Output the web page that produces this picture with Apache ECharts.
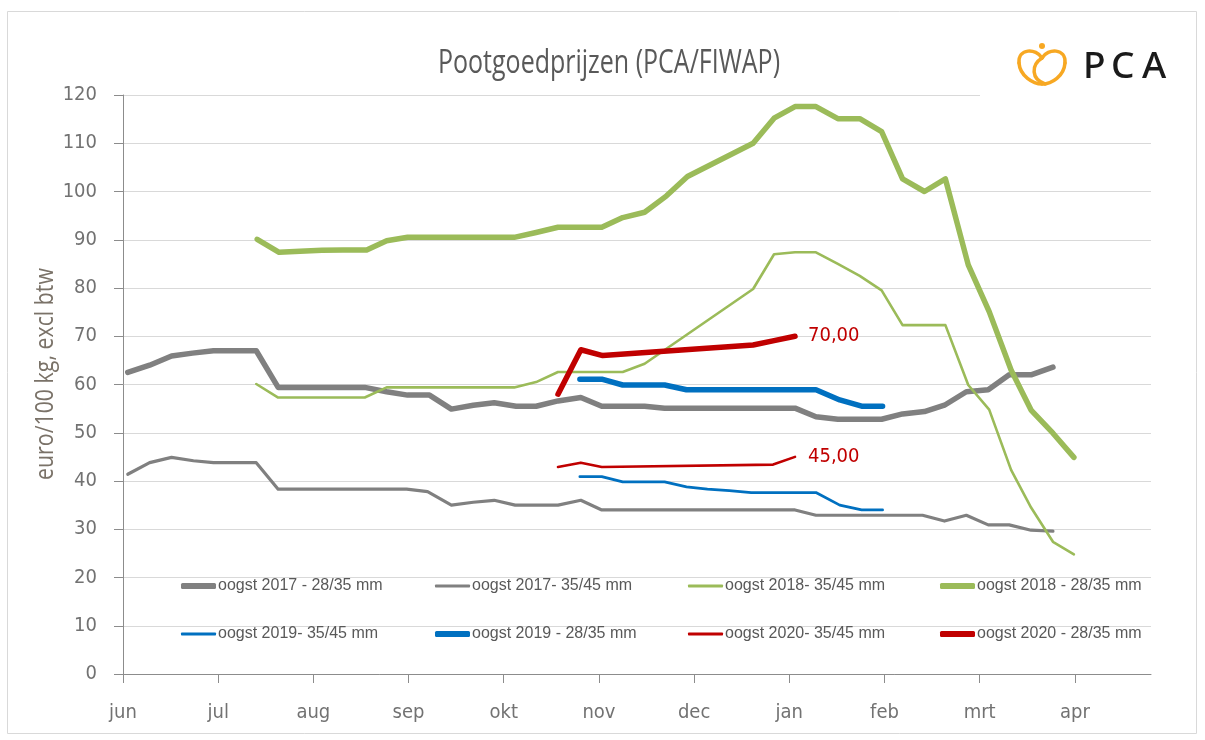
<!DOCTYPE html>
<html>
<head>
<meta charset="utf-8">
<script src="https://cdn.jsdelivr.net/npm/echarts@6/dist/echarts.min.js"></script>
<style>
html,body{margin:0;padding:0;background:#fff;}
#chart{width:1205px;height:740px;}
</style>
</head>
<body>
<div id="chart"></div>
<script>
// ---- data (x = months since 1 June, y = euro/100 kg) ----
const monthLabels = ['jun','jul','aug','sep','okt','nov','dec','jan','feb','mrt','apr'];

const oogst2017_2835 = [[0.05,62.5],[0.28,64.0],[0.51,65.9],[0.73,66.5],[0.95,67.0],[1.40,67.0],[1.63,59.4],[2.54,59.4],[2.77,58.5],[2.99,57.8],[3.22,57.8],[3.45,54.9],[3.68,55.7],[3.90,56.2],[4.13,55.5],[4.34,55.5],[4.57,56.6],[4.81,57.3],[5.03,55.5],[5.48,55.5],[5.69,55.1],[7.06,55.1],[7.28,53.3],[7.51,52.8],[7.97,52.8],[8.19,53.9],[8.42,54.4],[8.63,55.7],[8.86,58.5],[9.09,58.9],[9.31,62.0],[9.54,62.0],[9.77,63.6]];
const oogst2017_3545 = [[0.05,41.4],[0.28,43.8],[0.51,44.9],[0.74,44.2],[0.95,43.8],[1.40,43.8],[1.63,38.3],[2.98,38.3],[3.20,37.8],[3.45,35.0],[3.68,35.6],[3.90,36.0],[4.12,35.0],[4.57,35.0],[4.81,36.0],[5.03,34.0],[7.06,34.0],[7.28,32.9],[8.40,32.9],[8.63,31.7],[8.86,32.9],[9.09,30.9],[9.31,30.9],[9.54,29.8],[9.77,29.6]];
const oogst2018_3545 = [[1.40,60.1],[1.63,57.3],[2.54,57.3],[2.77,59.4],[4.11,59.4],[4.34,60.5],[4.57,62.6],[5.25,62.6],[5.48,64.3],[6.62,79.8],[6.84,87.0],[7.06,87.4],[7.28,87.4],[7.51,85.0],[7.74,82.5],[7.97,79.5],[8.19,72.3],[8.64,72.3],[8.88,59.9],[9.10,54.8],[9.33,42.3],[9.54,34.5],[9.77,27.4],[9.99,24.8]];
const oogst2018_2835 = [[1.41,90.1],[1.64,87.4],[1.86,87.6],[2.09,87.8],[2.31,87.9],[2.56,87.9],[2.77,89.8],[2.99,90.5],[4.11,90.5],[4.34,91.5],[4.57,92.6],[5.03,92.6],[5.25,94.6],[5.48,95.7],[5.71,99.1],[5.93,103.1],[6.62,110.0],[6.84,115.2],[7.06,117.6],[7.28,117.6],[7.51,115.1],[7.74,115.1],[7.97,112.4],[8.19,102.6],[8.42,100.0],[8.64,102.6],[8.88,84.8],[9.10,75.1],[9.33,63.0],[9.54,54.7],[9.77,49.9],[9.99,44.9]];
const oogst2019_3545 = [[4.80,40.9],[5.03,40.9],[5.25,39.8],[5.69,39.8],[5.92,38.8],[6.14,38.3],[6.37,38.0],[6.60,37.6],[7.28,37.6],[7.53,35.0],[7.76,34.0],[7.98,34.0]];
const oogst2019_2835 = [[4.80,61.1],[5.03,61.1],[5.25,59.9],[5.69,59.9],[5.92,58.9],[7.28,58.9],[7.53,56.8],[7.76,55.5],[7.98,55.5]];
const oogst2020_3545 = [[4.57,42.9],[4.81,43.8],[5.03,42.9],[6.83,43.4],[7.06,45.0]];
const oogst2020_2835 = [[4.57,58.0],[4.81,67.2],[5.04,66.0],[6.62,68.2],[6.84,69.1],[7.06,70.0]];

const seriesNames = ['oogst 2017 - 28/35 mm','oogst 2017- 35/45 mm','oogst 2018- 35/45 mm','oogst 2018 - 28/35 mm','oogst 2019- 35/45 mm','oogst 2019 - 28/35 mm','oogst 2020- 35/45 mm','oogst 2020 - 28/35 mm'];
const seriesData = [oogst2017_2835, oogst2017_3545, oogst2018_3545, oogst2018_2835, oogst2019_3545, oogst2019_2835, oogst2020_3545, oogst2020_2835];
const labelLast = [false,false,false,false,false,false,true,true];

const titleText = 'Pootgoedprijzen (PCA/FIWAP)';
const yAxisTitle = 'euro/100 kg, excl btw';

// ---- styles ----
const colors = ['#808080','#808080','#9bbb59','#9bbb59','#0070c0','#0070c0','#c00000','#c00000'];
const widths = [5.5,3.2,2.6,5.5,2.8,5.5,2.6,5.5];
const legendIconH = [6,3,3,6,3,6,3,6];
const condensed = '"DejaVu Sans Condensed","Liberation Sans Narrow","Open Sans",sans-serif';
const legendPos = [[181,577],[435,577],[688,577],[940,577],[181,625],[435,625],[688,625],[940,625]];

function measure(text, font){
  const c = document.createElement('canvas').getContext('2d');
  c.font = font;
  return c.measureText(text).width;
}
const titleFont = '32px "Open Sans"';
const titleScale = 342 / measure(titleText, titleFont);
const yNameFont = '25px "Open Sans"';
const yNameScale = 212 / measure(yAxisTitle, yNameFont);

const chart = echarts.init(document.getElementById('chart'), null, {renderer:'canvas'});

const series = seriesData.map((d,i)=>({
  name: seriesNames[i],
  type: 'line',
  data: d,
  symbol: 'none',
  showSymbol: false,
  z: 2+i,
  lineStyle: {color: colors[i], width: widths[i], join:'round', cap:'round'},
  itemStyle: {color: colors[i]},
  endLabel: {
    show: labelLast[i], distance: 13,
    color: '#c00000', fontSize: 20, fontFamily: condensed,
    formatter: (p)=> p.value[1].toFixed(2).replace('.', ',')
  },
  emphasis: {disabled: true},
  animation: false
}));

const legends = seriesNames.map((n,i)=>({
  data: [n],
  icon: 'roundRect',
  left: legendPos[i][0], top: legendPos[i][1],
  padding: 0, itemWidth: 35, itemHeight: legendIconH[i], itemGap: 0,
  selectedMode: false,
  textStyle: {color:'#595959', fontSize: 16, lineHeight: 18, height: 18, fontFamily:'"Liberation Sans", Arial, sans-serif', padding:[0,0,0,-3]}
}));

const orange = '#f7a823';
function bez(x1,y1,c1x,c1y,c2x,c2y,x2,y2){
  return {type:'bezierCurve', silent:true, z:51,
    shape:{x1:x1,y1:y1,cpx1:c1x,cpy1:c1y,cpx2:c2x,cpy2:c2y,x2:x2,y2:y2},
    style:{fill:null, stroke:orange, lineWidth:3.5, lineCap:'round'}};
}

const option = {
  backgroundColor: '#ffffff',
  animation: false,
  grid: {left: 123, top: 95, width: 1028, height: 579, containLabel: false},
  legend: legends,
  xAxis: {
    type: 'value', min: 0, max: 10.8, interval: 1,
    axisLine: {show: true, onZero: false, lineStyle: {color: '#8c8c8c', width: 1}},
    axisTick: {show: true, length: 9, inside: false, customValues: monthLabels.map((m,i)=>i), lineStyle: {color:'#8c8c8c'}},
    axisLabel: {
      show: true, margin: 29, color: '#727272', fontSize: 20, fontFamily: condensed,
      customValues: monthLabels.map((m,i)=>i),
      formatter: (v)=> monthLabels[Math.round(v)] || ''
    },
    splitLine: {show: false}
  },
  yAxis: {
    type: 'value', min: 0, max: 120, interval: 10,
    axisLine: {show: true, lineStyle: {color: '#8c8c8c', width: 1}},
    axisTick: {show: true, length: 9, inside: false, lineStyle: {color:'#8c8c8c'}},
    axisLabel: {show: true, margin: 26, color: '#727272', fontSize: 20, fontFamily: condensed},
    splitLine: {show: true, lineStyle: {color: '#d9d9d9', width: 1}}
  },
  series: series,
  graphic: [
    {type:'rect', silent:true, z:-10, shape:{x:7.5, y:11.5, width:1189, height:722}, style:{fill:null, stroke:'#d9d9d9', lineWidth:1}},
    {type:'text', silent:true, x: 609, y: 64, scaleX: titleScale, scaleY: 1,
      style:{text:titleText, font: titleFont, fill:'#595959', textAlign:'center', textVerticalAlign:'middle'}},
    {type:'text', silent:true, x: 46, y: 374, rotation: Math.PI/2, scaleX: yNameScale, scaleY: 1,
      style:{text:yAxisTitle, font: yNameFont, fill:'#7a7268', textAlign:'center', textVerticalAlign:'middle'}},
    // logo area
    {type:'rect', silent:true, z:50, shape:{x:980, y:20, width:210, height:80}, style:{fill:'#ffffff'}},
    {type:'circle', silent:true, z:51, shape:{cx:1042, cy:46, r:3}, style:{fill:orange}},
    bez(1042,58, 1036,48, 1018,48, 1019,63),
    bez(1019,63, 1020,76, 1033,84, 1042,84),
    bez(1042,84, 1052,84, 1064,76, 1065,63),
    bez(1065,63, 1066,48, 1048,48, 1042,58),
    bez(1042,58, 1031,65, 1031,79, 1045,84),
    {type:'text', silent:true, z:51, x:1083, y:67, style:{text:'P', font:'500 37px "Noto Sans"', fill:'#1a1a1a', textVerticalAlign:'middle'}},
    {type:'text', silent:true, z:51, x:1111, y:67, style:{text:'C', font:'500 37px "Noto Sans"', fill:'#1a1a1a', textVerticalAlign:'middle'}},
    {type:'text', silent:true, z:51, x:1142, y:67, style:{text:'A', font:'500 37px "Noto Sans"', fill:'#1a1a1a', textVerticalAlign:'middle'}}
  ]
};
chart.setOption(option);
</script>
</body>
</html>
